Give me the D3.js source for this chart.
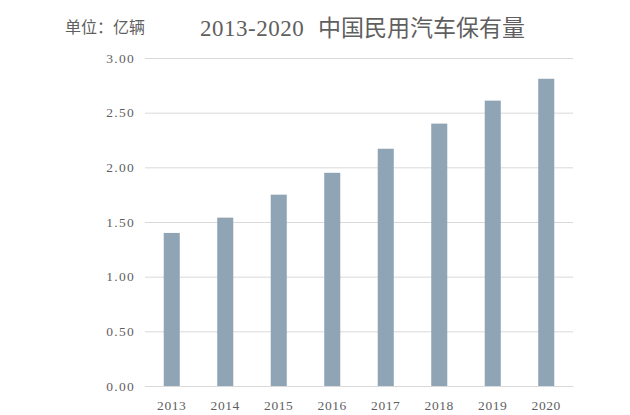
<!DOCTYPE html>
<html>
<head>
<meta charset="utf-8">
<script src="https://cdn.jsdelivr.net/npm/d3@7"></script>
<style>
  body { margin: 0; background: #fff; }
  svg { display: block; }
</style>
</head>
<body>
<svg width="630" height="415"></svg>
<script>
// chart data
var years = ['2013', '2014', '2015', '2016', '2017', '2018', '2019', '2020'];
var counts = [1.40, 1.54, 1.75, 1.95, 2.17, 2.40, 2.61, 2.81];
var yTicks = [0, 0.5, 1, 1.5, 2, 2.5, 3];

var svg = d3.select('svg');
var margin = {left: 145, right: 57, top: 58, bottom: 29};
var width = 630 - margin.left - margin.right;
var height = 415 - margin.top - margin.bottom;

var numFont = '"Liberation Serif", "DejaVu Serif", serif';
var cjkFont = '"Noto Sans CJK SC", sans-serif';
var textColor = '#5f5f5f';

var x = d3.scaleBand()
  .domain(years)
  .range([0, width])
  .paddingInner(0.7)
  .paddingOuter(0.35);

var y = d3.scaleLinear()
  .domain([0, 3])
  .range([height, 0]);

var g = svg.append('g')
  .attr('transform', 'translate(' + margin.left + ',' + margin.top + ')');

// gridlines + y labels
var yAxis = g.append('g')
  .call(d3.axisLeft(y)
    .tickValues(yTicks)
    .tickSize(-width)
    .tickPadding(10)
    .tickFormat(d3.format('.2f')));
yAxis.select('.domain').remove();
yAxis.selectAll('line').attr('stroke', '#d9d9d9');
yAxis.selectAll('text')
  .attr('fill', textColor)
  .style('font-family', numFont)
  .style('font-size', '13.5px')
  .style('letter-spacing', '1.3px');

// bars
g.selectAll('rect.bar')
  .data(counts)
  .enter().append('rect')
  .attr('class', 'bar')
  .attr('x', function (d, i) { return x(years[i]); })
  .attr('y', function (d) { return y(d); })
  .attr('width', x.bandwidth())
  .attr('height', function (d) { return height - y(d); })
  .attr('fill', '#8fa5b5');

// x labels
var xAxis = g.append('g')
  .attr('transform', 'translate(0,' + height + ')')
  .call(d3.axisBottom(x).tickSize(0).tickPadding(14));
xAxis.select('.domain').attr('stroke', '#d9d9d9');
xAxis.selectAll('text')
  .attr('fill', textColor)
  .style('font-family', numFont)
  .style('font-size', '13.5px')
  .style('letter-spacing', '0.6px');

// title and unit
svg.append('text')
  .attr('x', 65)
  .attr('y', 33)
  .text('单位：亿辆')
  .attr('font-family', cjkFont)
  .attr('font-size', '16px')
  .attr('fill', textColor);

var title = svg.append('text')
  .attr('x', 200)
  .attr('y', 36)
  .attr('fill', textColor)
  .attr('font-size', '23px');
title.append('tspan')
  .attr('font-family', numFont)
  .style('letter-spacing', '0.5px')
  .text('2013-2020');
title.append('tspan')
  .attr('x', 318)
  .attr('font-family', cjkFont)
  .text('中国民用汽车保有量');
</script>
</body>
</html>
